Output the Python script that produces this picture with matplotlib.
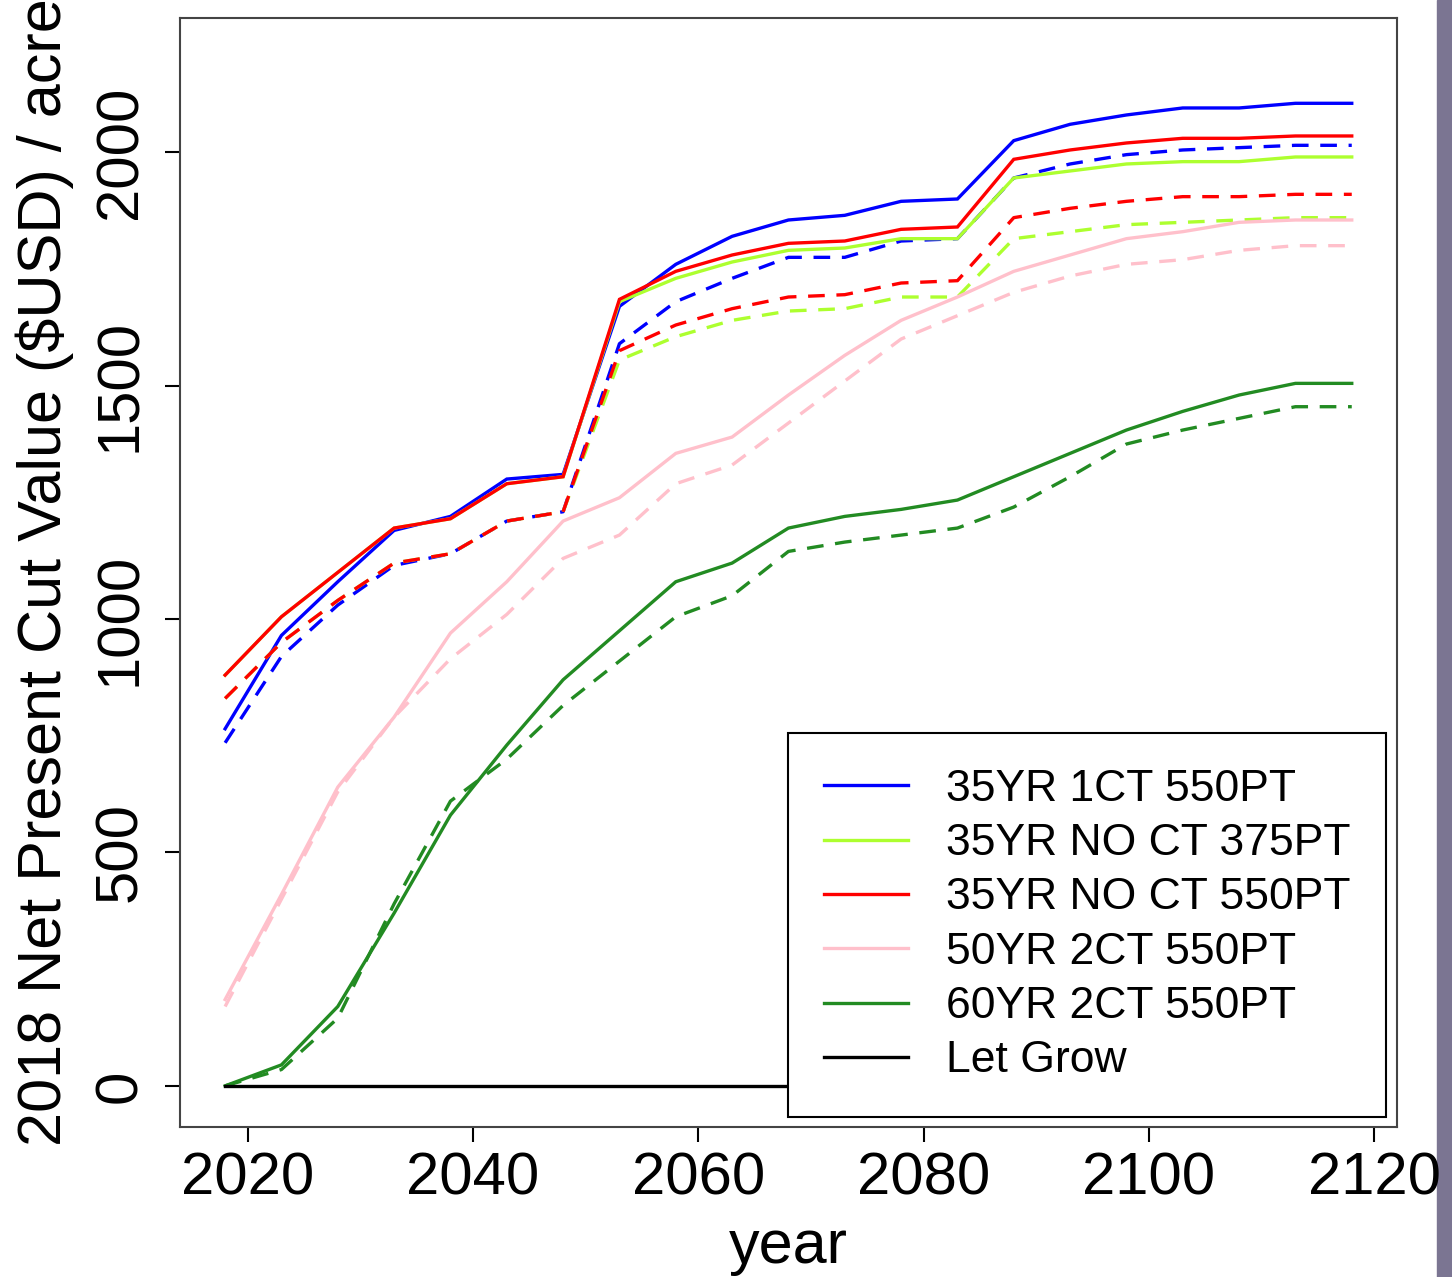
import matplotlib
matplotlib.use("Agg")
import matplotlib.pyplot as plt
from matplotlib.patches import Rectangle

plt.rcParams['font.family'] = ['Liberation Sans', 'DejaVu Sans']

# Données (pas de 5 ans)
years = list(range(2018, 2119, 5))

blue_solid = [765, 965, 1080, 1190, 1220, 1300, 1310, 1670, 1760, 1820, 1855,
              1865, 1895, 1900, 2025, 2060, 2080, 2095, 2095, 2105, 2105]
blue_dash = [735, 920, 1030, 1115, 1140, 1210, 1230, 1590, 1680, 1730, 1775,
             1775, 1810, 1815, 1945, 1975, 1995, 2005, 2010, 2015, 2015]
lime_solid = [880, 1005, 1100, 1195, 1215, 1290, 1305, 1680, 1730, 1765, 1790,
              1795, 1815, 1815, 1945, 1960, 1975, 1980, 1980, 1990, 1990]
lime_dash = [830, 950, 1040, 1120, 1140, 1210, 1230, 1555, 1605, 1640, 1660,
             1665, 1690, 1690, 1815, 1830, 1845, 1850, 1855, 1860, 1860]
red_solid = [880, 1005, 1100, 1195, 1215, 1290, 1305, 1685, 1745, 1780, 1805,
             1810, 1835, 1840, 1985, 2005, 2020, 2030, 2030, 2035, 2035]
red_dash = [830, 950, 1040, 1120, 1140, 1210, 1230, 1575, 1630, 1665, 1690,
            1695, 1720, 1725, 1860, 1880, 1895, 1905, 1905, 1910, 1910]
pink_solid = [185, 410, 640, 790, 970, 1080, 1210, 1260, 1355, 1390, 1480,
              1565, 1640, 1690, 1745, 1780, 1815, 1830, 1850, 1855, 1855]
pink_dash = [170, 400, 630, 790, 915, 1010, 1130, 1180, 1290, 1330, 1420,
             1510, 1600, 1650, 1700, 1735, 1760, 1770, 1790, 1800, 1800]
green_solid = [0, 45, 170, 370, 580, 730, 870, 975, 1080, 1120, 1195,
               1220, 1235, 1255, 1305, 1355, 1405, 1445, 1480, 1505, 1505]
green_dash = [0, 35, 145, 390, 610, 700, 815, 910, 1005, 1050, 1145,
              1165, 1180, 1195, 1240, 1305, 1375, 1405, 1430, 1455, 1455]
let_grow = [0] * len(years)

labels = ["35YR 1CT 550PT", "35YR NO CT 375PT", "35YR NO CT 550PT",
          "50YR 2CT 550PT", "60YR 2CT 550PT", "Let Grow"]
colors = ["#0000ff", "#adff2f", "#ff0000", "#ffc0cb", "#228b22", "#000000"]
solids = [blue_solid, lime_solid, red_solid, pink_solid, green_solid, let_grow]
dashes = [blue_dash, lime_dash, red_dash, pink_dash, green_dash, None]

fig = plt.figure(figsize=(14.52, 12.77), dpi=100)
ax = fig.add_axes([0.124, 0.1175, 0.838, 0.8685])

lw = 2.4
for lab, col, s, d in zip(labels, colors, solids, dashes):
    ax.plot(years, s, color=col, lw=lw, label=lab, solid_joinstyle='miter')
    if d is not None:
        ax.plot(years, d, color=col, lw=lw, dashes=(5, 3.5))

ax.set_xlim(2014, 2122)
ax.set_ylim(-88, 2288)
ax.set_xticks([2020, 2040, 2060, 2080, 2100, 2120])
ax.set_yticks([0, 500, 1000, 1500, 2000])
ax.tick_params(axis='both', labelsize=43, length=11, width=1.5, direction='out')
ax.tick_params(axis='x', pad=7)
ax.tick_params(axis='y', pad=12)
for t in ax.get_yticklabels():
    t.set_rotation(90)
    t.set_va('center')
for sp in ax.spines.values():
    sp.set_linewidth(1.5)
    sp.set_color('#444444')

ax.set_xlabel("year", fontsize=44, labelpad=9)
ax.set_ylabel("2018 Net Present Cut Value ($USD) / acre", fontsize=44, labelpad=14)

leg = ax.legend(loc='lower right', bbox_to_anchor=(0.991, 0.009), borderaxespad=0,
                fontsize=32, frameon=True, fancybox=False, framealpha=1,
                edgecolor='black', handlelength=1.9, handletextpad=0.85,
                labelspacing=0.3, borderpad=0.8)
leg.get_frame().set_linewidth(1.5)

# bande violette à droite
fig.patches.append(Rectangle((0.9897, 0), 0.0103, 1, transform=fig.transFigure,
                             color='#7b7592', zorder=-1))

fig.savefig("out.png", dpi=100)
